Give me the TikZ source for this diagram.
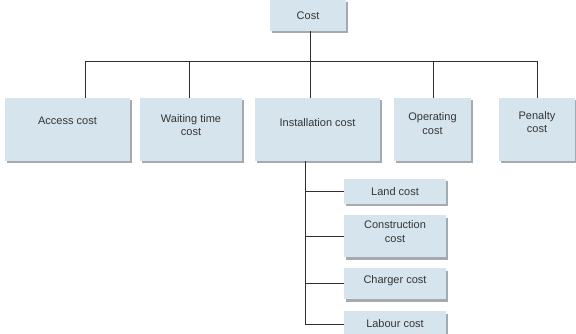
\documentclass[tikz,border=0pt]{standalone}
\usepackage{fontspec}
\setmainfont{Liberation Sans}
\usetikzlibrary{shadows}
\definecolor{boxfill}{HTML}{D5E4ED}
\definecolor{boxshade}{HTML}{A3ABAE}
\definecolor{inkgray}{HTML}{353535}
\definecolor{linegray}{HTML}{2E2E2E}
\tikzset{
  costbox/.style={fill=boxfill, draw=none, align=center, text=inkgray,
    font=\fontsize{11}{13.5}\selectfont, inner sep=0pt,
    drop shadow={shadow xshift=2pt, shadow yshift=-2.5pt, fill=boxshade, opacity=1}},
  % deepen the last text line so that the label sits higher in its box
  lift/.style={execute at end node={\rule[-#1]{0pt}{#1}}},
  link/.style={draw=linegray, line width=1pt}
}
\begin{document}
\begin{tikzpicture}[x=1pt, y=1pt]
\useasboundingbox (0,0) rectangle (576,-334);
\fill[white] (0,0) rectangle (576,-334);

% root
\node[costbox, minimum width=76pt, minimum height=31pt] (cost) at (308,-15.5) {Cost};

% first level
\node[costbox, lift=18pt, minimum width=125pt, minimum height=63pt] (access) at (67.5,-129.5) {Access cost};
\node[costbox, lift=8.5pt, minimum width=102pt, minimum height=63pt] (waiting) at (191,-129.5) {Waiting time\\cost};
\node[costbox, lift=13pt, minimum width=125pt, minimum height=63pt] (inst) at (317.5,-129.5) {Installation cost};
\node[costbox, lift=12pt, minimum width=77pt, minimum height=63pt] (oper) at (432.5,-129.5) {Operating\\cost};
\node[costbox, lift=15pt, minimum width=76pt, minimum height=63pt] (penalty) at (537,-129.5) {Penalty\\cost};

% components of the installation cost
\node[costbox, minimum width=102pt, minimum height=25pt] (land) at (395,-191.5) {Land cost};
\node[costbox, lift=9pt, minimum width=102pt, minimum height=42pt] (constr) at (395,-236) {Construction\\cost};
\node[costbox, lift=7pt, minimum width=102pt, minimum height=31pt] (charger) at (395,-283.5) {Charger cost};
\node[costbox, minimum width=102pt, minimum height=26pt] (labour) at (395,-324) {Labour cost};

% bus under the root
\coordinate (hub) at (310,-62);
\draw[link] (cost.south -| hub) -- (hub);
\draw[link] ([xshift=17.5pt]access.north) |- (hub);
\draw[link] ([xshift=-2pt]waiting.north) |- (hub);
\draw[link] ([xshift=-7.5pt]inst.north) -- (hub);
\draw[link] ([xshift=0.5pt]oper.north) |- (hub);
\draw[link] (penalty.north) |- (hub);

% spine with branches to the components
\draw[link] ([xshift=-12.5pt]inst.south) |- (land.west);
\draw[link] ([xshift=-12.5pt]inst.south) |- (constr.west);
\draw[link] ([xshift=-12.5pt]inst.south) |- (charger.west);
\draw[link] ([xshift=-12.5pt]inst.south) |- (labour.west);
\end{tikzpicture}
\end{document}
